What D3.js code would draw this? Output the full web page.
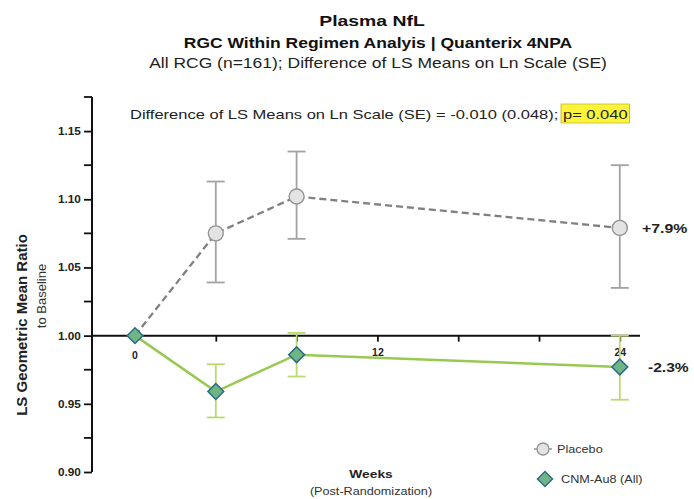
<!DOCTYPE html>
<html>
<head>
<meta charset="utf-8">
<script src="https://cdn.jsdelivr.net/npm/d3@7"></script>
<style>
  html, body { margin: 0; padding: 0; background: #ffffff; }
  svg { display: block; font-family: "Liberation Sans", Arial, sans-serif; }
</style>
</head>
<body>
<svg id="chart" width="694" height="499"></svg>
<script>
// Study visits (weeks post-randomization)
const weeks = [0, 4, 8, 24];

// Placebo: LS geometric mean ratio to baseline with SE bounds
const placeboMean  = [1.000, 1.075, 1.102, 1.079];
const placeboLower = [1.000, 1.039, 1.071, 1.035];
const placeboUpper = [1.000, 1.113, 1.135, 1.125];

// CNM-Au8 (All)
const cnmMean  = [1.000, 0.959, 0.986, 0.977];
const cnmLower = [1.000, 0.940, 0.970, 0.953];
const cnmUpper = [1.000, 0.979, 1.002, 1.000];

const yMajorTicks = [0.90, 0.95, 1.00, 1.05, 1.10, 1.15];
const yMinorTicks = [0.925, 0.975, 1.025, 1.075, 1.125, 1.175];
const xTicks = [4, 8, 12, 16, 20, 24];
const xTickLabels = [0, 12, 24];

const endLabels = ["+7.9%", "-2.3%"];

const svg = d3.select("#chart");

const x = d3.scaleLinear().domain([0, 25]).range([135, 640]);
const y = d3.scaleLinear().domain([0.90, 1.175]).range([472, 97]);
const axisX = 92;

// Text helper: places a label and widens it horizontally by sx
function label(parent, px, py, str, o) {
  const g = parent.append("g").attr("transform", `translate(${px},${py}) scale(${o.sx || 1},1)`);
  const t = g.append("text")
    .attr("text-anchor", o.anchor || "start")
    .attr("font-size", o.size)
    .attr("font-weight", o.bold ? "bold" : "normal")
    .attr("fill", o.fill || "#222")
    .text(str);
  return { g, t };
}

// Titles
label(svg, 372, 26, "Plasma NfL", { anchor: "middle", size: 15.5, bold: true, sx: 1.25, fill: "#111" });
label(svg, 378, 48, "RGC Within Regimen Analyis | Quanterix 4NPA", { anchor: "middle", size: 14, bold: true, sx: 1.25, fill: "#111" });
label(svg, 378, 68, "All RCG (n=161); Difference of LS Means on Ln Scale (SE)", { anchor: "middle", size: 14, sx: 1.25 });

// Statistic annotation with highlighted p-value
const ann = label(svg, 130, 119, "", { size: 13.2, sx: 1.25 });
ann.t.append("tspan").text("Difference of LS Means on Ln Scale (SE) = -0.010 (0.048); ");
const pText = "p= 0.040";
ann.t.append("tspan").text(pText);
{
  const node = ann.t.node();
  const n = node.getNumberOfChars();
  const s0 = node.getStartPositionOfChar(n - pText.length);
  const e0 = node.getEndPositionOfChar(n - 1);
  ann.g.insert("rect", "text")
    .attr("x", s0.x - 1.5).attr("y", -15).attr("width", e0.x - s0.x + 3).attr("height", 19)
    .attr("fill", "#fbf43a").attr("stroke", "#c8bf2a").attr("stroke-width", 0.8);
}

// Y axis
const yAxis = d3.axisLeft(y).tickValues(yMajorTicks).tickFormat(d3.format(".2f")).tickSize(8).tickPadding(2);
const gy = svg.append("g").attr("transform", `translate(${axisX},0)`).call(yAxis);
gy.select(".domain").attr("stroke", "#111").attr("stroke-width", 2).attr("d", `M0,${y(0.90)}V${y(1.175)}`);
gy.selectAll(".tick line").attr("stroke", "#111").attr("stroke-width", 1.8);
gy.selectAll(".tick text").attr("font-size", 10.5).attr("font-weight", "bold").attr("fill", "#222")
  .attr("font-family", "Liberation Sans, Arial, sans-serif").attr("transform", "scale(1.12,1)");
gy.selectAll(".minor").data(yMinorTicks).enter().append("line")
  .attr("x1", -8).attr("x2", 0).attr("y1", d => y(d)).attr("y2", d => y(d))
  .attr("stroke", "#111").attr("stroke-width", 1.8);

// X axis drawn along the baseline ratio of 1.00
const xAxis = d3.axisBottom(x).tickValues(xTicks)
  .tickFormat(d => xTickLabels.includes(d) ? d : "").tickSize(6).tickPadding(7);
const gx = svg.append("g").attr("transform", `translate(0,${y(1.0)})`).call(xAxis);
gx.select(".domain").attr("stroke", "#111").attr("stroke-width", 2).attr("d", `M${axisX},0H${x(25)}`);
gx.selectAll(".tick line").attr("stroke", "#111").attr("stroke-width", 1.8);
gx.selectAll(".tick text").attr("font-size", 10.5).attr("font-weight", "bold").attr("fill", "#222")
  .attr("font-family", "Liberation Sans, Arial, sans-serif");
gx.append("text").attr("x", x(0)).attr("y", 23).attr("text-anchor", "middle")
  .attr("font-size", 10.5).attr("font-weight", "bold").attr("fill", "#222").text(xTickLabels[0]);

// Axis titles
svg.append("text").attr("transform", "translate(27,325) rotate(-90)").attr("text-anchor", "middle")
  .attr("font-size", 15).attr("font-weight", "bold").attr("fill", "#222").text("LS Geometric Mean Ratio");
svg.append("text").attr("transform", "translate(46,296) rotate(-90)").attr("text-anchor", "middle")
  .attr("font-size", 13).attr("fill", "#333").text("to Baseline");
label(svg, 371, 478, "Weeks", { anchor: "middle", size: 11.5, bold: true, sx: 1.2 });
label(svg, 371, 495, "(Post-Randomization)", { anchor: "middle", size: 11.5, sx: 1.1, fill: "#333" });

const line = d3.line().x(d => x(d.w)).y(d => y(d.m));
const placebo = weeks.map((w, i) => ({ w, m: placeboMean[i], lo: placeboLower[i], hi: placeboUpper[i] }));
const cnm = weeks.map((w, i) => ({ w, m: cnmMean[i], lo: cnmLower[i], hi: cnmUpper[i] }));

function errorBars(data, color, width) {
  const g = svg.append("g");
  const bars = data.filter(d => d.hi !== d.lo);
  g.selectAll(".v").data(bars).enter().append("line")
    .attr("x1", d => x(d.w)).attr("x2", d => x(d.w)).attr("y1", d => y(d.lo)).attr("y2", d => y(d.hi))
    .attr("stroke", color).attr("stroke-width", width);
  ["lo", "hi"].forEach(k => {
    g.selectAll(".c" + k).data(bars).enter().append("line")
      .attr("x1", d => x(d.w) - 9).attr("x2", d => x(d.w) + 9)
      .attr("y1", d => y(d[k])).attr("y2", d => y(d[k]))
      .attr("stroke", color).attr("stroke-width", width);
  });
}

// Placebo series
errorBars(placebo, "#a2a2a2", 1.8);
svg.append("path").datum(placebo).attr("d", line).attr("fill", "none")
  .attr("stroke", "#808080").attr("stroke-width", 2.3).attr("stroke-dasharray", "7,4");
svg.selectAll(".pc").data(placebo.slice(1)).enter().append("circle")
  .attr("cx", d => x(d.w)).attr("cy", d => y(d.m)).attr("r", 7.5)
  .attr("fill", "#e3e3e3").attr("stroke", "#939393").attr("stroke-width", 1.4);

// CNM-Au8 series
errorBars(cnm, "#b9da70", 1.8);
svg.append("path").datum(cnm).attr("d", line).attr("fill", "none")
  .attr("stroke", "#98c952").attr("stroke-width", 2.5);
const diamond = d3.symbol().type(d3.symbolSquare).size(125);
svg.selectAll(".cd").data(cnm).enter().append("path")
  .attr("d", diamond).attr("transform", d => `translate(${x(d.w)},${y(d.m)}) rotate(45)`)
  .attr("fill", "#6fb583").attr("stroke", "#2c6a86").attr("stroke-width", 1.5);

// End-of-study percentage labels
label(svg, 642, y(placeboMean[3]) + 5, endLabels[0], { size: 13, bold: true, sx: 1.22 });
label(svg, 648, y(cnmMean[3]) + 5, endLabels[1], { size: 13, bold: true, sx: 1.2 });

// Legend
const lg = svg.append("g");
lg.append("line").attr("x1", 534).attr("x2", 552).attr("y1", 449).attr("y2", 449)
  .attr("stroke", "#939393").attr("stroke-width", 1.5);
lg.append("circle").attr("cx", 543).attr("cy", 449).attr("r", 6)
  .attr("fill", "#e3e3e3").attr("stroke", "#939393").attr("stroke-width", 1.3);
label(lg, 557, 453, "Placebo", { size: 11.5, sx: 1.1, fill: "#333" });
lg.append("path").attr("d", d3.symbol().type(d3.symbolSquare).size(115))
  .attr("transform", "translate(545,479) rotate(45)")
  .attr("fill", "#6fb583").attr("stroke", "#2c6a86").attr("stroke-width", 1.4);
label(lg, 561, 483, "CNM-Au8 (All)", { size: 11.5, sx: 1.1, fill: "#333" });
</script>
</body>
</html>
